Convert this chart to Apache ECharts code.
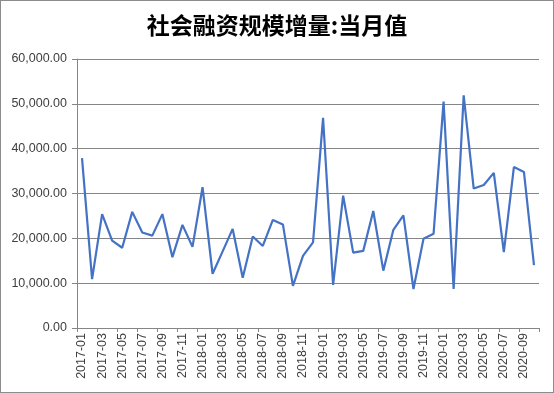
<!DOCTYPE html>
<html><head><meta charset="utf-8">
<script src="https://cdn.jsdelivr.net/npm/echarts@6/dist/echarts.min.js"></script>
<style>html,body{margin:0;padding:0;background:#fff}#c{width:554px;height:393px;box-sizing:border-box;border:1px solid #8c8c8c}</style>
</head><body><div id="c"></div>
<script>
const months = ["2017-01","2017-02","2017-03","2017-04","2017-05","2017-06","2017-07","2017-08","2017-09","2017-10","2017-11","2017-12",
"2018-01","2018-02","2018-03","2018-04","2018-05","2018-06","2018-07","2018-08","2018-09","2018-10","2018-11","2018-12",
"2019-01","2019-02","2019-03","2019-04","2019-05","2019-06","2019-07","2019-08","2019-09","2019-10","2019-11","2019-12",
"2020-01","2020-02","2020-03","2020-04","2020-05","2020-06","2020-07","2020-08","2020-09","2020-10"];
const values = [37900,10900,25400,19500,17900,25900,21300,20600,25400,15800,23000,18100,
31400,12100,17100,22100,11200,20400,18300,24100,23100,9400,16100,19100,
46900,9600,29500,16800,17200,26100,12800,21900,25100,8700,19900,21000,
50500,8700,51900,31100,31900,34600,16900,35900,34800,14000];
const chart = echarts.init(document.getElementById('c'));
chart.setOption({
  animation:false,
  title:{text:'社会融资规模增量:当月值',left:'center',top:8,textStyle:{fontSize:23,fontWeight:'bold',color:'#000',fontFamily:'Noto Sans CJK SC'}},
  grid:{left:76,right:14,top:58,bottom:64,containLabel:false},
  xAxis:{type:'category',data:months,boundaryGap:true,
    axisLine:{lineStyle:{color:'#868686'}},
    axisTick:{show:true,interval:1,length:4,lineStyle:{color:'#868686'}},
    axisLabel:{interval:1,rotate:90,fontSize:12.5,color:'#404040',fontFamily:'Liberation Sans',margin:5}},
  yAxis:{type:'value',min:0,max:60000,interval:10000,
    axisLine:{show:true,lineStyle:{color:'#868686'}},
    axisTick:{show:true,length:5,lineStyle:{color:'#868686'}},
    splitLine:{lineStyle:{color:'#868686'}},
    axisLabel:{fontSize:12.5,color:'#404040',fontFamily:'Liberation Sans',margin:10,
      formatter:v=>v.toLocaleString('en-US',{minimumFractionDigits:2,maximumFractionDigits:2})}},
  series:[{type:'line',data:values,symbol:'none',lineStyle:{color:'#4472C4',width:2.2}}]
});
</script></body></html>
